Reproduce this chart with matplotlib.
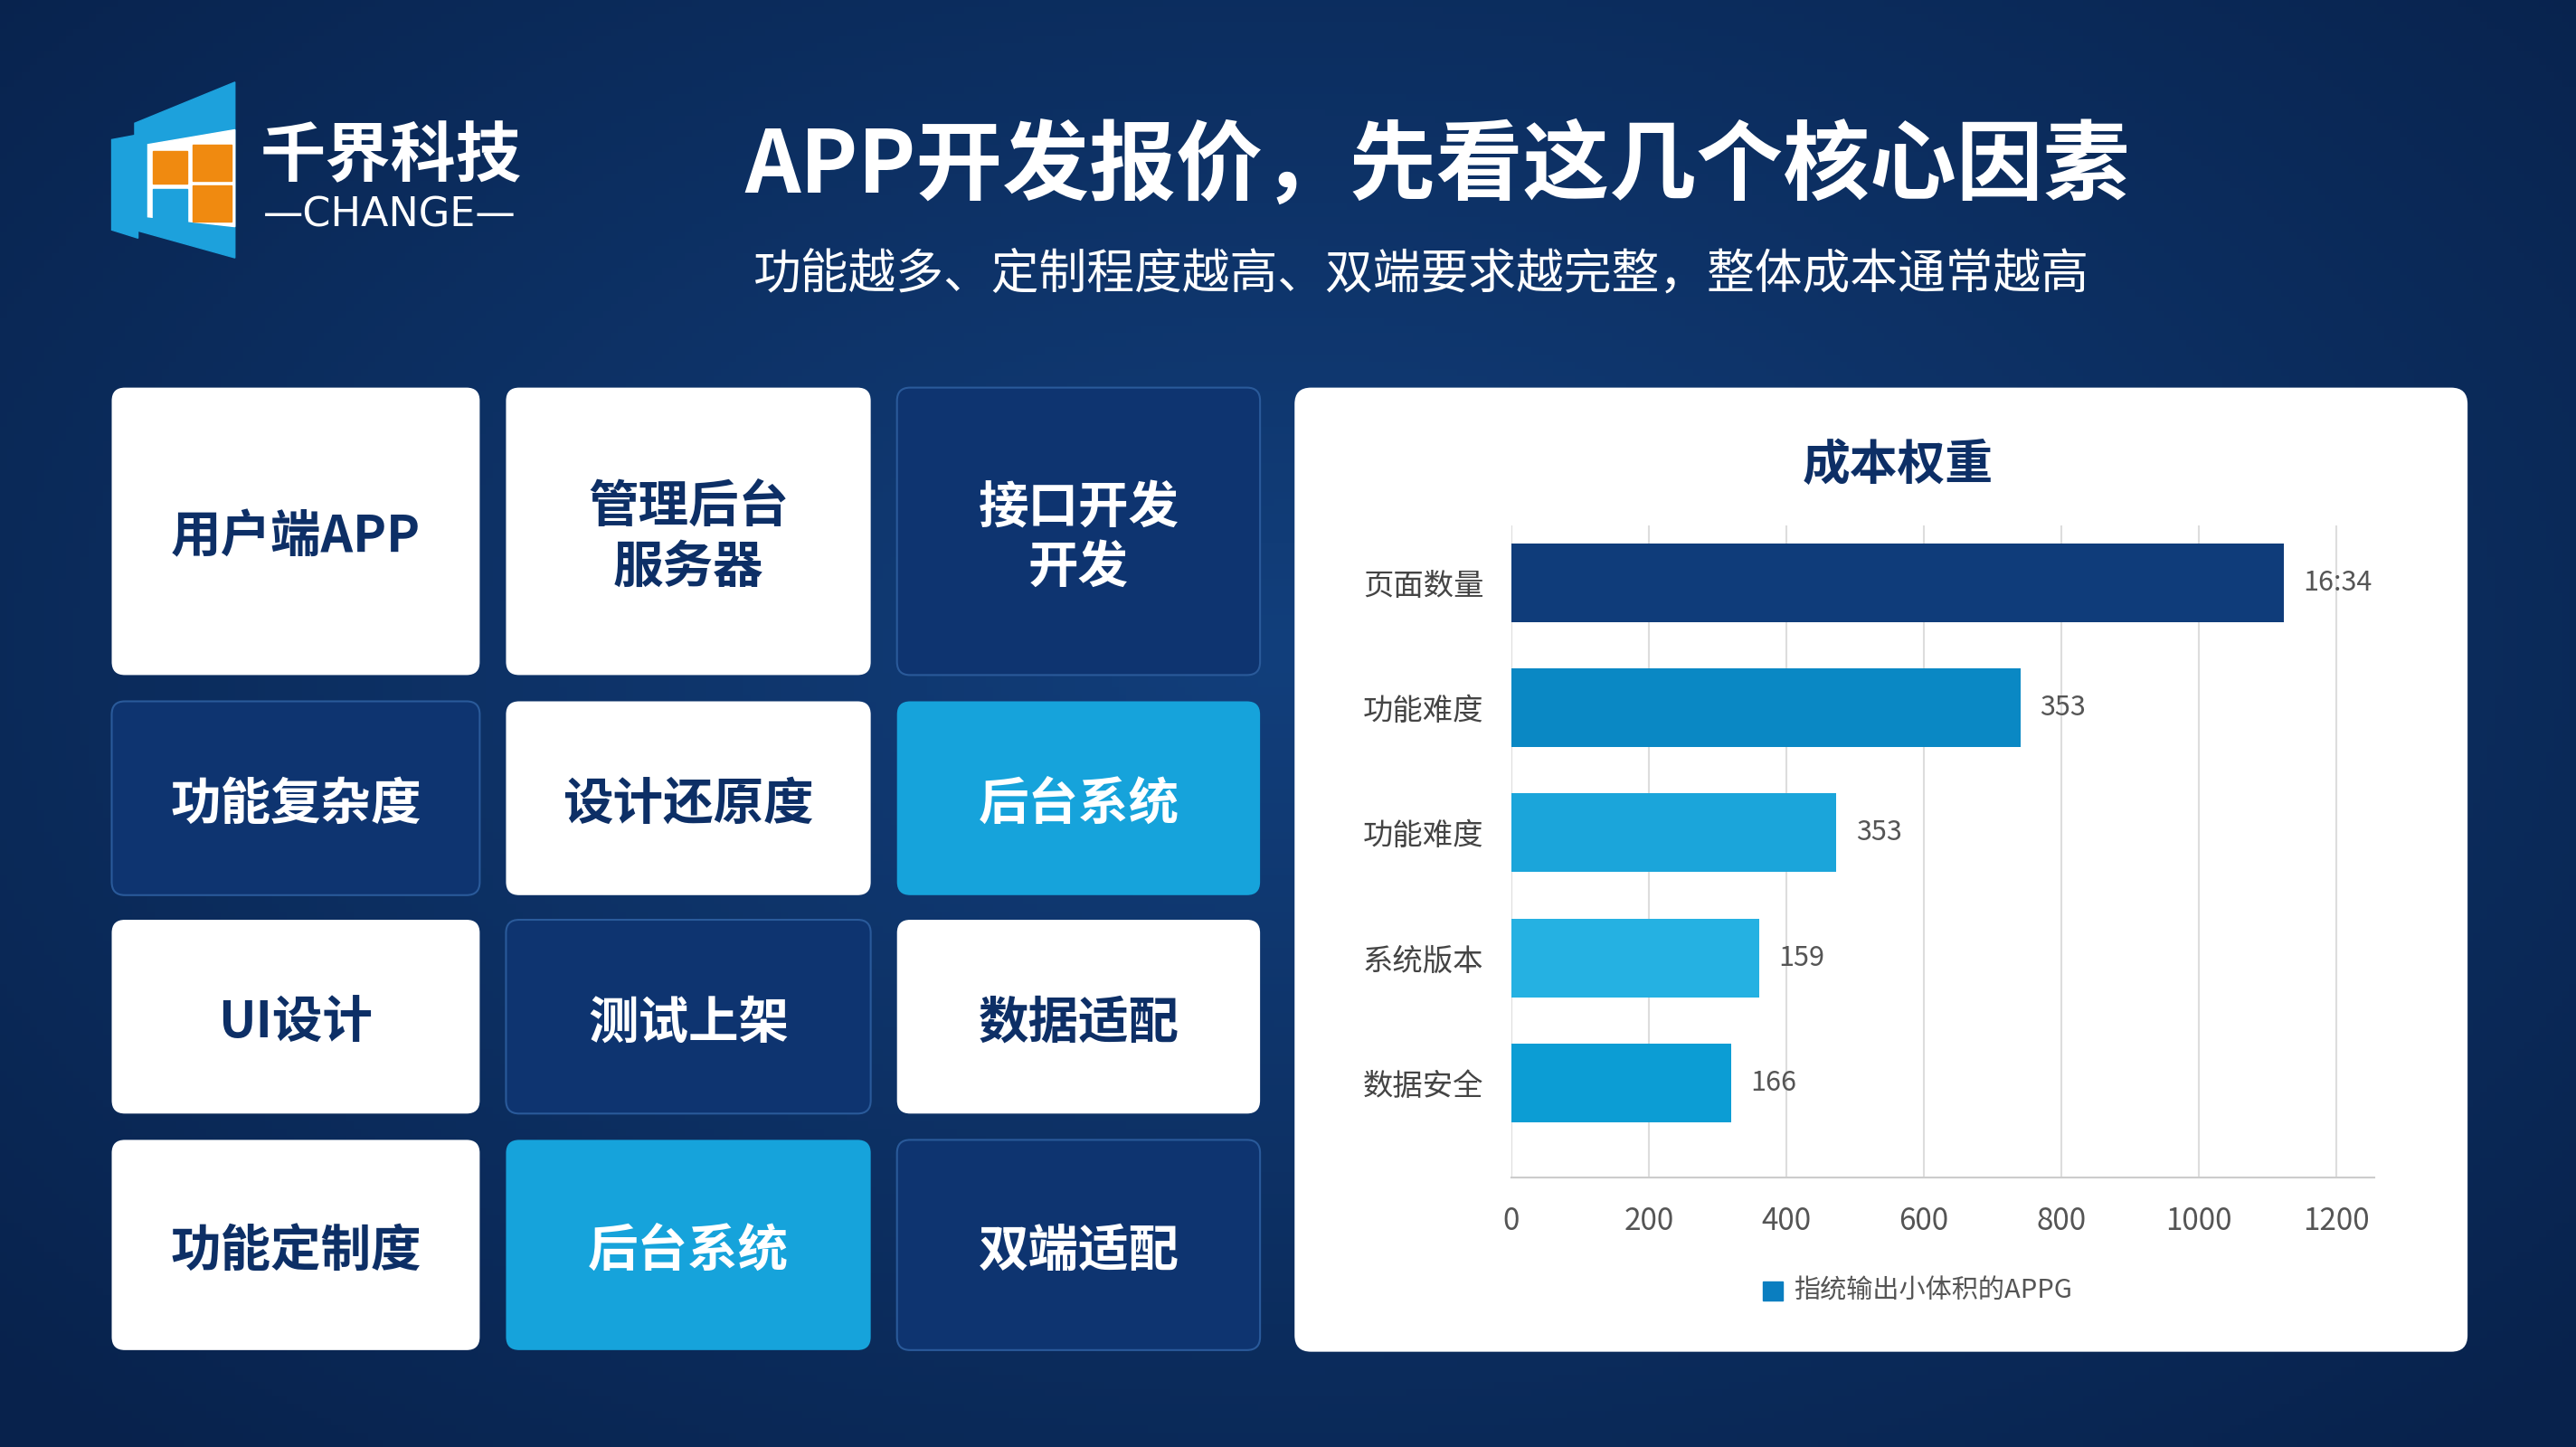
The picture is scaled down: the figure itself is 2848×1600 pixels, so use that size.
import numpy as np
import matplotlib
matplotlib.use("Agg")
from matplotlib import pyplot as plt
from matplotlib.patches import FancyBboxPatch, Polygon, Rectangle

plt.rcParams['font.family'] = ['Noto Sans CJK SC', 'DejaVu Sans']

# data
categories = ['页面数量', '功能难度', '功能难度', '系统版本', '数据安全']
bar_values = [1124, 741, 473, 361, 320]
bar_labels = ['16:34', '353', '353', '159', '166']
bar_colors = ['#0f3c7a', '#0a88c4', '#1ba5da', '#25b1e2', '#0c9dd4']
x_ticks = [0, 200, 400, 600, 800, 1000, 1200]

tile_texts = [
    ['用户端APP', '管理后台\n服务器', '接口开发\n开发'],
    ['功能复杂度', '设计还原度', '后台系统'],
    ['UI设计', '测试上架', '数据适配'],
    ['功能定制度', '后台系统', '双端适配'],
]
tile_styles = [
    ['W', 'W', 'D'],
    ['D', 'W', 'C'],
    ['W', 'D', 'W'],
    ['W', 'C', 'D'],
]

W, H = 1568, 881
fig = plt.figure(figsize=(28.48, 16), dpi=100)
bg = fig.add_axes([0, 0, 1, 1])
bg.set_xlim(0, W)
bg.set_ylim(H, 0)
bg.axis('off')

# background gradient with vignette
yy, xx = np.mgrid[0:1:200j, 0:1:350j]
r = np.sqrt((xx - 0.5) ** 2 * 1.2 + (yy - 0.45) ** 2)
c0 = np.array([0x12, 0x3f, 0x7c]) / 255
c1 = np.array([0x08, 0x22, 0x4c]) / 255
t = np.clip(r / 0.75, 0, 1)[..., None]
bg.imshow(c0 * (1 - t) + c1 * t, extent=[0, W, H, 0], aspect='auto', zorder=0)

# logo
bg.add_patch(Polygon([[82, 75], [143, 50], [143, 157], [82, 140]], color='#1da1dc', zorder=2))
bg.add_patch(Polygon([[68, 85], [84, 82], [84, 145], [68, 140]], color='#1da1dc', zorder=2))
bg.add_patch(Polygon([[90, 88], [143, 79], [143, 138], [90, 132]], color='white', zorder=3))
for (x0, y0, x1, y1) in [(93, 92, 114, 112), (117, 88, 141, 110), (117, 113, 141, 135)]:
    bg.add_patch(Rectangle((x0, y0), x1 - x0, y1 - y0, color='#f08a10', zorder=4))
bg.add_patch(Rectangle((93, 115), 21, 25, color='#1da1dc', zorder=4))
bg.text(238, 96, '千界科技', color='white', fontsize=52, fontweight='bold', ha='center', va='center')
bg.text(237, 131, '—CHANGE—', color='white', fontsize=32, ha='center', va='center', family=['DejaVu Sans'])

# title
bg.text(875, 102, 'APP开发报价，先看这几个核心因素', color='white', fontsize=69, fontweight='bold',
        ha='center', va='center')
bg.text(865, 167, '功能越多、定制程度越高、双端要求越完整，整体成本通常越高', color='white',
        fontsize=38, ha='center', va='center')

# tiles
col_x = [(68, 292), (308, 530), (546, 767)]
row_y = [(236, 411), (427, 545), (560, 678), (694, 822)]
style = {'W': ('white', 'none', '#0d2f66'),
         'D': ('#0e3470', '#2a5a9a', 'white'),
         'C': ('#16a3db', 'none', 'white')}
for i, (y0, y1) in enumerate(row_y):
    for j, (x0, x1) in enumerate(col_x):
        fc, ec, tc = style[tile_styles[i][j]]
        bg.add_patch(FancyBboxPatch((x0, y0), x1 - x0, y1 - y0, boxstyle='round,pad=0,rounding_size=8',
                                    fc=fc, ec=ec, lw=1.5, zorder=2))
        bg.text((x0 + x1) / 2, (y0 + y1) / 2 + 4, tile_texts[i][j], color=tc, fontsize=40, fontweight='bold',
                ha='center', va='center', linespacing=1.25, zorder=3)

# chart panel
bg.add_patch(FancyBboxPatch((788, 236), 714, 587, boxstyle='round,pad=0,rounding_size=10',
                            fc='white', ec='none', zorder=2))
bg.text(1155, 283, '成本权重', color='#0d2f66', fontsize=38, fontweight='bold', ha='center', va='center', zorder=3)

ax = fig.add_axes([920 / W, 1 - 717 / H, (1445 - 920) / W, (717 - 320) / H])
ax.set_facecolor('none')
ypos = np.arange(len(categories))
ax.barh(ypos, bar_values, height=0.63, color=bar_colors, zorder=3)
for y, v, lab in zip(ypos, bar_values, bar_labels):
    ax.text(v + 28, y, lab, color='#555555', fontsize=22, va='center')
ax.set_xlim(0, 1255)
ax.set_ylim(4.76, -0.46)
ax.set_yticks(ypos)
ax.set_yticklabels(categories, fontsize=24, color='#444444')
ax.set_xticks(x_ticks)
ax.set_xticklabels([str(v) for v in x_ticks], fontsize=24, color='#555555')
ax.tick_params(length=0, pad=22)
ax.tick_params(axis='y', pad=22)
ax.grid(axis='x', color='#dddddd', lw=1.5, zorder=0)
for s in ['top', 'right', 'left']:
    ax.spines[s].set_visible(False)
ax.spines['bottom'].set_color('#cccccc')
ax.spines['bottom'].set_linewidth(1.5)

bg.add_patch(Rectangle((1073, 780), 12, 12, color='#0a7ec0', zorder=3))
bg.text(1092, 786, '指统输出小体积的APPG', color='#555555', fontsize=21, va='center', zorder=3)

fig.savefig('out.png', dpi=100)
